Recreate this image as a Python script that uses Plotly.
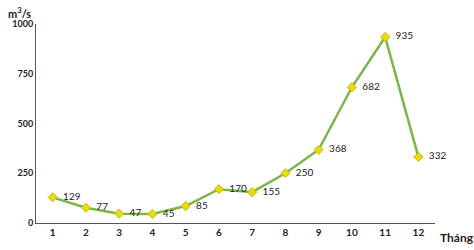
import plotly.graph_objects as go

months = [1, 2, 3, 4, 5, 6, 7, 8, 9, 10, 11, 12]
flow = [129, 77, 47, 45, 85, 170, 155, 250, 368, 682, 935, 332]
y_ticks = [0, 250, 500, 750, 1000]

fig = go.Figure()
fig.add_trace(go.Scatter(
    x=months, y=flow, mode="lines+markers+text",
    line=dict(color="#7ab648", width=2.5),
    marker=dict(symbol="diamond", size=7, color="#e8dc10", line=dict(color="#c9b800", width=1)),
    text=["  " + str(v) for v in flow], textposition="middle right",
    textfont=dict(family="Lato, sans-serif", size=10, color="#222222"),
    cliponaxis=False,
))

fig.update_layout(
    width=474, height=250,
    margin=dict(l=33, r=39, t=24, b=24),
    plot_bgcolor="white", paper_bgcolor="white",
    showlegend=False,
    xaxis=dict(range=[0.5, 12.5], tickvals=months, ticktext=[f"<b>{m}</b>" for m in months],
               showgrid=False, zeroline=False, showline=True, linecolor="#555555", linewidth=1,
               ticks="", tickfont=dict(family="Lato, sans-serif", size=10, color="#222222")),
    yaxis=dict(range=[0, 1000], tickvals=y_ticks, ticktext=[f"<b>{t}</b>" for t in y_ticks],
               showgrid=False, zeroline=False, showline=True, linecolor="#555555", linewidth=1,
               ticks="", tickfont=dict(family="Lato, sans-serif", size=9, color="#222222")),
)
fig.add_annotation(text="<b>m<sup>3</sup>/s</b>", xref="paper", yref="paper", x=-0.075, y=1.105,
                   xanchor="left", yanchor="top", showarrow=False,
                   font=dict(family="Lato, sans-serif", size=11, color="#222222"))
fig.add_annotation(text="<b>Tháng</b>", xref="paper", yref="paper", x=1.008, y=-0.075,
                   xanchor="left", yanchor="middle", showarrow=False,
                   font=dict(family="Lato, sans-serif", size=12, color="#222222"))

fig.write_html("out.html")
